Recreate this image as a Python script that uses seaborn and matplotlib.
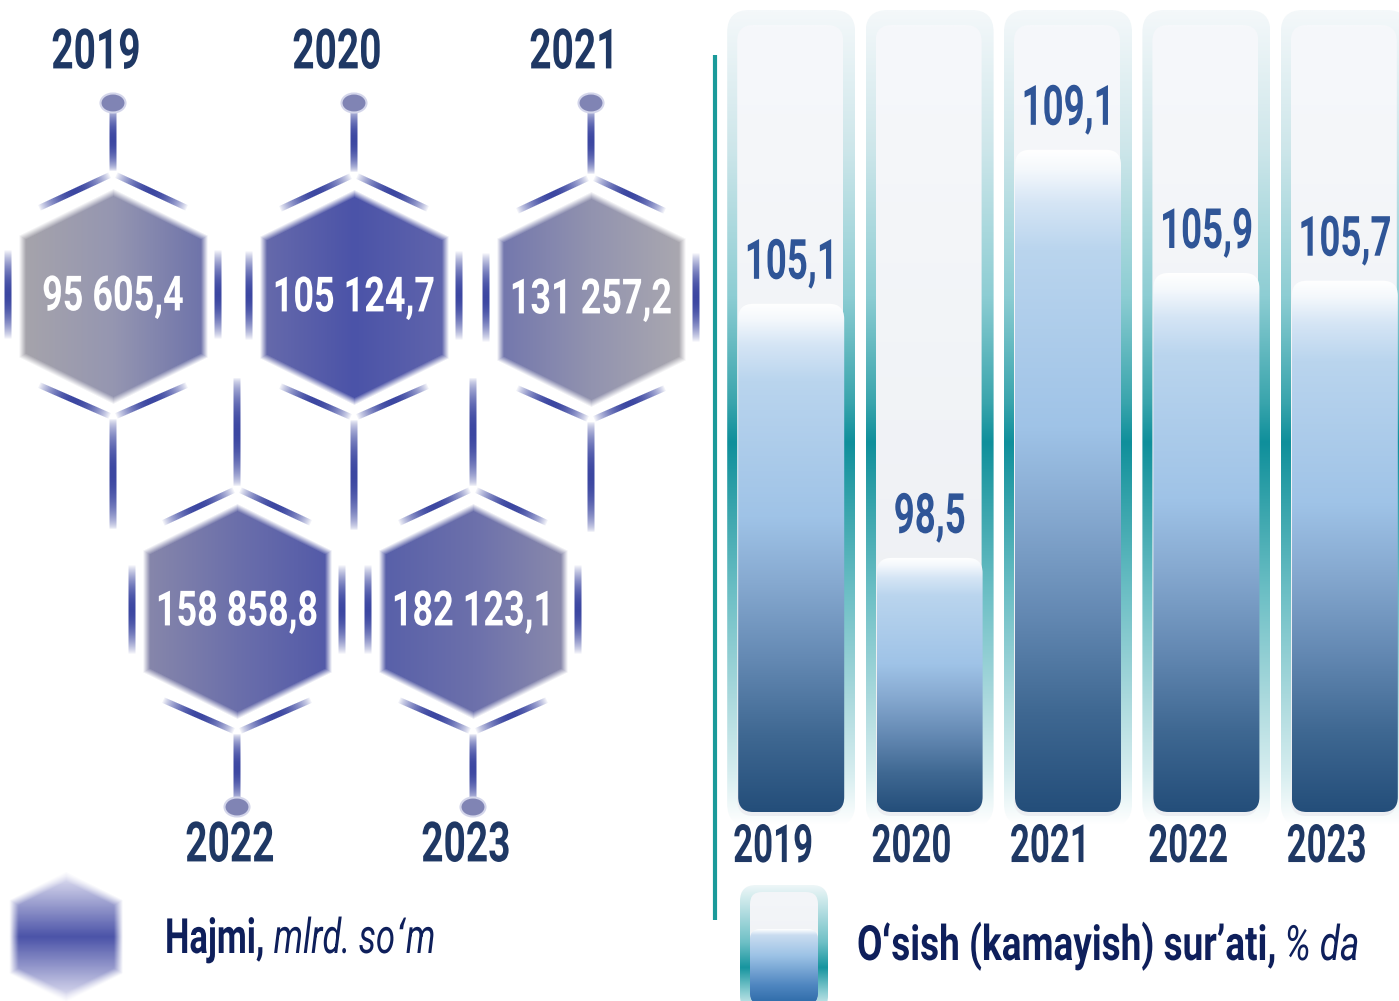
import numpy as np
import pandas as pd
import matplotlib
matplotlib.use("Agg")
import matplotlib.pyplot as plt
import seaborn as sns
from matplotlib import font_manager
from matplotlib import patheffects as pe
from matplotlib.patches import FancyBboxPatch, Ellipse
from matplotlib.colors import LinearSegmentedColormap, to_rgb
from matplotlib.transforms import ScaledTranslation, Affine2D

# ---------------- data ----------------
years = ["2019", "2020", "2021", "2022", "2023"]
volume = [95605.4, 105124.7, 131257.2, 158858.8, 182123.1]   # mlrd. so'm
growth = [105.1, 98.5, 109.1, 105.9, 105.7]                   # % da
legend_volume = ("Hajmi,", "mlrd. soʻm")
legend_growth = ("Oʻsish (kamayish) surʼati,", "% da")

# ---------------- fonts ----------------
sns.set_theme(style="white")
names = {f.name for f in font_manager.fontManager.ttflist}
BASE = "Roboto" if "Roboto" in names else "DejaVu Sans"
plt.rcParams["font.family"] = [BASE, "DejaVu Sans"]


class Tall(pe.AbstractPathEffect):
    """Stretch glyphs vertically so that a normal face looks like the narrow
    display face of the original."""

    def __init__(self, sy=1.4, anchor="center"):
        super().__init__()
        self.sy = sy
        self.anchor = anchor

    def draw_path(self, renderer, gc, tpath, affine, rgbFace=None):
        v = tpath.vertices
        c = 0.0
        if len(v):
            if self.anchor == "center":
                c = (v[:, 1].min() + v[:, 1].max()) / 2
            elif self.anchor == "top":
                c = v[:, 1].max()
        aff = Affine2D().translate(0, -c).scale(1, self.sy).translate(0, c) + affine
        renderer.draw_path(gc, tpath, aff, rgbFace)


def tall_text(ax, x, y, s, fs, sx, anchor="center", **kw):
    """text of visual size fs, condensed to sx of its normal width"""
    return ax.text(x, y, s, fontsize=fs * sx, path_effects=[Tall(1 / sx, anchor)], **kw)


W, H = 1399, 1001
fig = plt.figure(figsize=(W / 100, H / 100), dpi=100)
fig.patch.set_facecolor("white")

bg = fig.add_axes([0, 0, 1, 1], zorder=0)
bg.set_xlim(0, W)
bg.set_ylim(H, 0)
bg.axis("off")

LINE = "#3b46a1"
NAVY = "#1f3864"


def grad_line(ax, p0, p1, w, color=LINE, power=0.8, z=2):
    p0 = np.asarray(p0, float)
    p1 = np.asarray(p1, float)
    pad = w + 3
    x0 = int(np.floor(min(p0[0], p1[0]) - pad))
    x1 = int(np.ceil(max(p0[0], p1[0]) + pad))
    y0 = int(np.floor(min(p0[1], p1[1]) - pad))
    y1 = int(np.ceil(max(p0[1], p1[1]) + pad))
    X, Y = np.meshgrid(np.arange(x0, x1) + 0.5, np.arange(y0, y1) + 0.5)
    d = p1 - p0
    L = np.hypot(*d)
    u = d / L
    rx, ry = X - p0[0], Y - p0[1]
    t = (rx * u[0] + ry * u[1]) / L
    perp = np.abs(rx * u[1] - ry * u[0])
    cov = np.clip(w / 2 - perp + 0.5, 0, 1)
    prof = np.where((t > 0) & (t < 1), np.sin(np.pi * np.clip(t, 0, 1)) ** power, 0)
    rgba = np.zeros(X.shape + (4,))
    rgba[..., :3] = to_rgb(color)
    rgba[..., 3] = cov * prof
    ax.imshow(rgba, extent=(x0, x1, y1, y0), origin="upper", aspect="auto",
              interpolation="nearest", zorder=z)


def hex_image(ax, cx, cy, hw, hh, hc, colors, orient="h", blur=7, z=3):
    pad = 14
    x = np.arange(cx - hw - pad, cx + hw + pad + 1)
    y = np.arange(cy - hh - pad, cy + hh + pad + 1)
    X, Y = np.meshgrid(x, y)
    dx = np.abs(X - cx)
    dy = np.abs(Y - cy)
    d1 = dx - hw
    nrm = np.array([hh - hc, hw], dtype=float)
    nrm /= np.linalg.norm(nrm)
    d2 = nrm[0] * dx + nrm[1] * dy - nrm[1] * hh
    d = np.maximum(d1, d2)
    alpha = np.clip(0.5 - d / blur, 0, 1)
    cmap = LinearSegmentedColormap.from_list("hx", colors)
    if orient == "h":
        t = (X - (cx - hw)) / (2 * hw)
    else:
        t = (Y - (cy - hh)) / (2 * hh)
    rgba = cmap(np.clip(t, 0, 1))
    rgba[..., 3] = alpha
    ax.imshow(rgba, extent=(x[0] - 0.5, x[-1] + 0.5, y[-1] + 0.5, y[0] - 0.5),
              origin="upper", interpolation="bilinear", aspect="auto", zorder=z)


def vgrad_box(ax, x0, x1, y0, y1, r, stops, z):
    """rounded box in pixel coords (y downward) filled with a vertical gradient"""
    box = FancyBboxPatch((x0, y0), x1 - x0, y1 - y0,
                         boxstyle=f"round,pad=0,rounding_size={r}",
                         facecolor="none", edgecolor="none", zorder=z)
    ax.add_patch(box)
    cmap = LinearSegmentedColormap.from_list("vg", stops)
    grad = np.linspace(0, 1, 256)[:, None]
    im = ax.imshow(cmap(grad), extent=(x0, x1, y1, y0), origin="upper",
                   aspect="auto", interpolation="bilinear", zorder=z)
    im.set_clip_path(box)
    return box


# ---------------- left panel: hexagons ----------------
hex_centers = [(113, 297), (354, 298), (591, 300), (237, 612), (473, 612)]
hex_colors = [
    ["#a6a4ab", "#9596b1", "#6e73aa"],
    ["#666aab", "#4b53a8", "#6065ac"],
    ["#7377ad", "#9293af", "#aaa8b0"],
    ["#8787aa", "#6b6fab", "#535aa8"],
    ["#5860a9", "#6c70ab", "#8a8aab"],
]
HW, HH, HC = 91, 104, 59

for i, ((cx, cy), cols) in enumerate(zip(hex_centers, hex_colors)):
    top_row = i < 3
    grad_line(bg, (cx - 74, cy - 89), (cx - 3, cy - 122), 6)
    grad_line(bg, (cx + 3, cy - 122), (cx + 74, cy - 89), 6)
    grad_line(bg, (cx - 74, cy + 88), (cx - 3, cy + 119), 6)
    grad_line(bg, (cx + 3, cy + 119), (cx + 74, cy + 88), 6)
    grad_line(bg, (cx - 105, cy - 47), (cx - 105, cy + 42), 7)
    grad_line(bg, (cx + 105, cy - 47), (cx + 105, cy + 42), 7)
    if top_row:
        grad_line(bg, (cx, 108), (cx, cy - 126), 7, power=0.6)
        grad_line(bg, (cx, cy + 122), (cx, cy + 232), 7, power=0.6)
        dot_y, lab_y, lab_dx = 103, 52, -17
    else:
        grad_line(bg, (cx, cy - 234), (cx, cy - 126), 7, power=0.6)
        grad_line(bg, (cx, cy + 122), (cx, 802), 7, power=0.6)
        dot_y, lab_y, lab_dx = 807, 845, -7
    bg.add_patch(Ellipse((cx, dot_y), 25, 19, facecolor="#8084b4",
                         edgecolor="#d3d5ea", lw=1.5, zorder=4))
    hex_image(bg, cx, cy, HW, HH, HC, cols)
    lab = f"{volume[i]:,.1f}".replace(",", " ").replace(".", ",")
    tall_text(bg, cx, cy, lab, 35, 0.74, ha="center", va="center", color="white",
              fontweight="bold", zorder=6)
    tall_text(bg, cx + lab_dx, lab_y, years[i], 40, 0.7, ha="center", va="center",
              color=NAVY, fontweight="bold", zorder=6)

# separator line
bg.plot([715, 715], [55, 920], color="#1a9a9a", lw=3, solid_capstyle="butt", zorder=2)

# ---------------- right panel: bars (seaborn) ----------------
Y0 = 91.9
PPU = 38.5  # pixels per percentage unit
Y1 = Y0 + 802 / PPU
axb = fig.add_axes([722 / W, (H - 812) / H, 692 / W, 802 / H], zorder=2)
axb.patch.set_alpha(0)
df = pd.DataFrame({"year": years, "growth": growth})
sns.barplot(data=df, x="year", y="growth", ax=axb, width=0.766, color="#9dc3e6")
axb.set_xlim(-0.5, 4.5)
axb.set_ylim(Y0, Y1)

frame_stops = [(0.0, "#f4f8fa"), (0.17, "#cde6ea"), (0.35, "#8dcdd3"),
               (0.48, "#3aa5ad"), (0.53, "#0f8f9b"), (0.6, "#33a2aa"),
               (0.72, "#6fc0c6"), (0.84, "#a8d8dc"), (0.94, "#d8eef0"), (1.0, "#ffffff")]
panel_stops = [(0.0, "#f6f8fb"), (1.0, "#eceef2")]
bar_stops = [(0.0, "#ffffff"), (0.03, "#f4f8fc"), (0.08, "#d5e5f5"), (0.15, "#bad5ee"),
             (0.42, "#9fc3e7"), (0.55, "#86a9d0"), (0.7, "#6489b3"), (0.85, "#3f6892"),
             (1.0, "#244e7a")]

for i in range(len(years)):
    cxp, _ = axb.transData.transform((i, Y0))
    vgrad_box(bg, cxp - 64, cxp + 64, 10, 826, 22, frame_stops, z=1)
    vgrad_box(bg, cxp - 54, cxp + 52, 25, 816, 16, panel_stops, z=1.5)

xppu = 692 / 5.0
asp = xppu / PPU
bar_cmap = LinearSegmentedColormap.from_list("bar", bar_stops)
for i, p in enumerate(axb.patches):
    x0 = p.get_x()
    w = p.get_width()
    top = p.get_height()
    p.set_facecolor("none")
    p.set_edgecolor("none")
    r = 15 / xppu
    box = FancyBboxPatch((x0, Y0), w, top - Y0,
                         boxstyle=f"round,pad=0,rounding_size={r}",
                         mutation_aspect=asp, facecolor="none", edgecolor="none", zorder=2)
    axb.add_patch(box)
    grad = np.linspace(0, 1, 256)[:, None]
    im = axb.imshow(bar_cmap(grad), extent=(x0, x0 + w, Y0, top), origin="upper",
                    aspect="auto", interpolation="bilinear", zorder=2)
    im.set_clip_path(box)
    SXB = 0.66
    axb.annotate(f"{top:.1f}".replace(".", ","), (x0 + w / 2, top),
                 xytext=(0, 18), textcoords="offset points", ha="center", va="baseline",
                 color="#2f5597", fontsize=40 * SXB, fontweight="bold",
                 zorder=5, annotation_clip=False, path_effects=[Tall(1 / SXB, "baseline")])

axb.set_xlim(-0.5, 4.5)
axb.set_ylim(Y0, Y1)
axb.set_xlabel("")
axb.set_ylabel("")
axb.set_yticks([])
axb.set_xticks(range(len(years)))
SXT = 0.66
axb.set_xticklabels(years, fontsize=38 * SXT, fontweight="bold", color=NAVY)
axb.tick_params(axis="x", length=0, pad=8)
for lbl in axb.get_xticklabels():
    lbl.set_transform(lbl.get_transform() + ScaledTranslation(-0.18, 0, fig.dpi_scale_trans))
    lbl.set_path_effects([Tall(1 / SXT, "top")])
sns.despine(ax=axb, left=True, bottom=True)

# ---------------- legends ----------------
hex_image(bg, 66, 937, 52, 60, 34,
          ["#dcdcf0", "#9397cb", "#4b53a8", "#9397cb", "#dcdcf0"], orient="v", blur=9)
leg_frame = [(0.0, "#eef7f8"), (0.45, "#6fc0c6"), (0.65, "#17959f"), (0.85, "#8fcfd4"), (1.0, "#e4f3f5")]
vgrad_box(bg, 740, 828, 885, 1012, 16, leg_frame, z=1)
vgrad_box(bg, 750, 818, 892, 1006, 12, [(0, "#f4f6f9"), (1, "#eceef2")], z=1.5)
vgrad_box(bg, 750, 818, 929, 1004, 10,
          [(0, "#ffffff"), (0.08, "#c9dcf0"), (0.35, "#9dc3e6"), (0.75, "#4f86c0"), (1, "#2d6aa8")], z=2)

LEG = "#0e1f5b"
fig.canvas.draw()
ren = fig.canvas.get_renderer()


def two_part(x, y, bold_txt, ital_txt, fs, sx):
    t1 = tall_text(bg, x, y, bold_txt, fs, sx, anchor="baseline", ha="left",
                   va="baseline", color=LEG, fontweight="bold", zorder=6)
    bb = t1.get_window_extent(ren)
    tall_text(bg, bb.x1 + 9, y, ital_txt, fs, sx, anchor="baseline", ha="left",
              va="baseline", color=LEG, fontstyle="italic", fontweight="normal", zorder=6)


two_part(165, 953, legend_volume[0], legend_volume[1], 35, 0.71)
two_part(857, 960, legend_growth[0], legend_growth[1], 35, 0.76)

bg.set_xlim(0, W)
bg.set_ylim(H, 0)
fig.savefig("out.png", dpi=100, facecolor="white")
